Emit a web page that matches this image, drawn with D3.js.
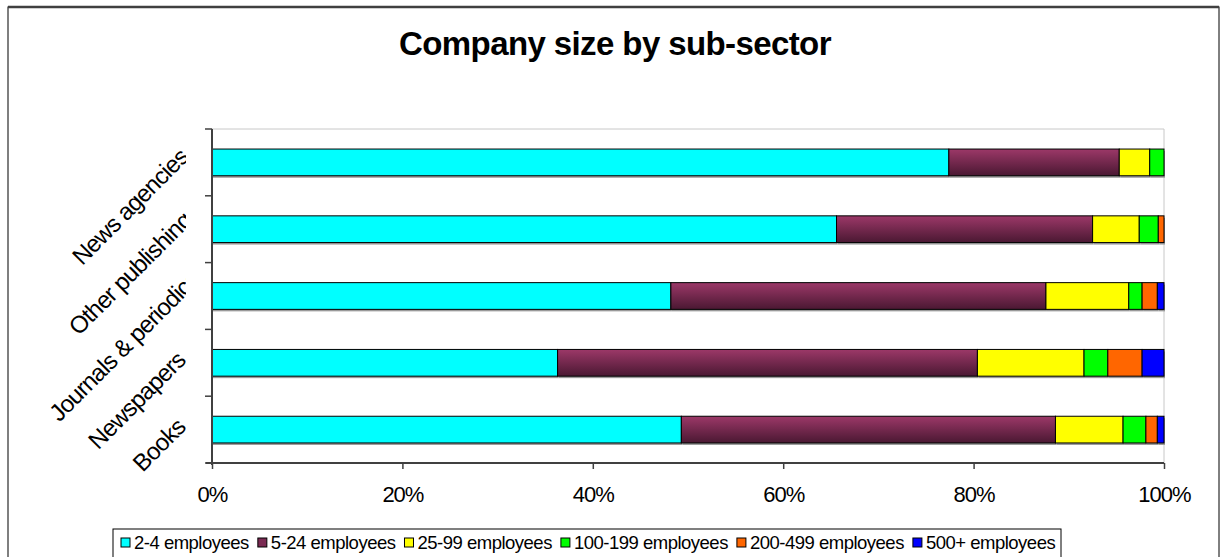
<!DOCTYPE html>
<html>
<head>
<meta charset="utf-8">
<script src="https://cdn.jsdelivr.net/npm/d3@7"></script>
<style>
  body { margin: 0; background: #fff; }
  text { font-family: "Liberation Sans", Arial, sans-serif; }
</style>
</head>
<body>
<div id="chart"></div>
<script>
// Data: share of companies in each size band, per sub-sector (percent)
var sectors = ["Books", "Newspapers", "Journals & periodicals", "Other publishing", "News agencies"];
var sizeBands = ["2-4 employees", "5-24 employees", "25-99 employees", "100-199 employees", "200-499 employees", "500+ employees"];
var books = [49.3, 39.3, 7.1, 2.4, 1.2, 0.7];
var newspapers = [36.3, 44.1, 11.2, 2.5, 3.6, 2.3];
var journals = [48.2, 39.4, 8.7, 1.4, 1.6, 0.7];
var otherPublishing = [65.6, 26.9, 4.9, 2.0, 0.6, 0];
var newsAgencies = [77.4, 17.9, 3.2, 1.5, 0, 0];
var xTicks = [0, 0.2, 0.4, 0.6, 0.8, 1];

var colors = ["#00ffff", "url(#maroonGrad)", "#ffff00", "#00ff00", "#ff6600", "#0000ff"];
var legendColors = ["#00ffff", "#7a2a52", "#ffff00", "#00ff00", "#ff6600", "#0000ff"];

var rows = [books, newspapers, journals, otherPublishing, newsAgencies];
var table = sectors.map(function (s, i) {
    var o = { sector: s };
    sizeBands.forEach(function (b, j) { o[b] = rows[i][j]; });
    return o;
});

var W = 1221, H = 557;
var margin = { top: 129, left: 212, right: 1221 - 1164, bottom: 557 - 463 };
var width = W - margin.left - margin.right,
    height = H - margin.top - margin.bottom;

var svg = d3.select("#chart").append("svg")
    .attr("width", W).attr("height", H);

var defs = svg.append("defs");
var grad = defs.append("linearGradient").attr("id", "maroonGrad")
    .attr("x1", 0).attr("y1", 0).attr("x2", 0).attr("y2", 1);
grad.append("stop").attr("offset", "0%").attr("stop-color", "#9c3868");
grad.append("stop").attr("offset", "100%").attr("stop-color", "#4a1832");

// outer chart border
svg.append("rect").attr("x", 8).attr("y", 7).attr("width", 1211).attr("height", 620)
    .attr("fill", "none").attr("stroke", "#000").attr("stroke-width", 1);
svg.append("line").attr("x1", 8).attr("x2", 1219).attr("y1", 7).attr("y2", 7)
    .attr("stroke", "#404040").attr("stroke-width", 2.5);

// title
svg.append("text")
    .attr("x", 615).attr("y", 55)
    .attr("text-anchor", "middle")
    .style("font-size", "33px").style("font-weight", "bold")
    .style("letter-spacing", "-0.6px")
    .text("Company size by sub-sector");

var g = svg.append("g")
    .attr("transform", "translate(" + margin.left + "," + margin.top + ")");

var x = d3.scaleLinear().domain([0, 1]).range([0, width]);
var y = d3.scaleBand().domain(sectors.slice().reverse()).range([0, height]).paddingInner(0.6).paddingOuter(0.3);

// plot area frame (light)
g.append("path")
    .attr("d", "M0,0H" + width + "V" + height)
    .attr("fill", "none").attr("stroke", "#c8c8c8").attr("stroke-width", 1);

var stack = d3.stack().keys(sizeBands).offset(d3.stackOffsetExpand);
var series = stack(table);

var layers = g.selectAll("g.layer")
    .data(series)
    .enter().append("g")
    .attr("class", "layer");

// shadows
layers.selectAll("rect.shadow")
    .data(function (d) { return d.filter(function (v) { return v[1] > v[0]; }); })
    .enter().append("rect")
    .attr("class", "shadow")
    .attr("x", function (d) { return x(d[0]) + 1; })
    .attr("y", function (d) { return y(d.data.sector) + 2; })
    .attr("width", function (d) { return x(d[1]) - x(d[0]); })
    .attr("height", y.bandwidth())
    .attr("fill", "#9a9a9a");

layers.each(function (s, i) {
    d3.select(this).selectAll("rect.bar")
        .data(s.filter(function (v) { return v[1] > v[0]; }))
        .enter().append("rect")
        .attr("class", "bar")
        .attr("x", function (d) { return x(d[0]); })
        .attr("y", function (d) { return y(d.data.sector); })
        .attr("width", function (d) { return x(d[1]) - x(d[0]); })
        .attr("height", y.bandwidth())
        .attr("fill", colors[i])
        .attr("stroke", "#000")
        .attr("stroke-width", 1);
});

// x axis
var xAxis = g.append("g")
    .attr("transform", "translate(0," + height + ")")
    .call(d3.axisBottom(x).tickValues(xTicks).tickFormat(d3.format(".0%")).tickSize(6).tickSizeOuter(0));
xAxis.select(".domain").attr("stroke", "#404040").attr("stroke-width", 2)
    .attr("d", "M-6,0H" + width);
xAxis.selectAll(".tick line").attr("stroke", "#404040").attr("stroke-width", 1.5);
xAxis.selectAll(".tick text")
    .attr("y", 39)
    .attr("dy", 0)
    .attr("fill", "#000")
    .style("font-size", "22px")
    .style("letter-spacing", "-1px")
    .style("font-family", "'Liberation Sans', Arial, sans-serif");

// y axis: ticks at band boundaries
var bounds = d3.range(sectors.length + 1).map(function (i) { return i * height / sectors.length; });
g.append("line").attr("x1", 0).attr("x2", 0).attr("y1", 0).attr("y2", height + 2)
    .attr("stroke", "#404040").attr("stroke-width", 2);
g.selectAll("line.ytick")
    .data(bounds)
    .enter().append("line")
    .attr("class", "ytick")
    .attr("x1", -7).attr("x2", 0)
    .attr("y1", function (d) { return d; }).attr("y2", function (d) { return d; })
    .attr("stroke", "#404040").attr("stroke-width", 1.5);

// rotated category labels, clipped near the axis like the original
defs.append("clipPath").attr("id", "labelClip")
    .append("rect").attr("x", -margin.left).attr("y", -margin.top)
    .attr("width", margin.left - 26).attr("height", H);

var labelG = g.append("g").attr("clip-path", "url(#labelClip)");
var c45 = Math.SQRT1_2;
labelG.selectAll("text.ylab")
    .data(sectors)
    .enter().append("text")
    .attr("class", "ylab")
    .style("font-size", "24px")
    .style("letter-spacing", "-0.8px")
    .text(function (d) { return d; })
    .each(function (d) {
        var L = this.getComputedTextLength();
        var cy = y(d) + y.bandwidth() / 2;
        var midX = -76, midY = cy + 50;
        var endX = midX + L / 2 * c45;
        var shift = Math.max(0, -25 - endX);
        var sx = midX - L / 2 * c45 + shift;
        var sy = midY + L / 2 * c45 - shift;
        d3.select(this).attr("transform", "translate(" + sx + "," + sy + ") rotate(-45)");
    });

// legend
var legend = svg.append("g");
legend.append("rect").attr("x", 113).attr("y", 529).attr("width", 948).attr("height", 40)
    .attr("fill", "#fff").attr("stroke", "#000").attr("stroke-width", 1);
var lx = 121;
sizeBands.forEach(function (b, i) {
    legend.append("rect").attr("x", lx).attr("y", 538).attr("width", 9).attr("height", 9)
        .attr("fill", legendColors[i]).attr("stroke", "#000").attr("stroke-width", 1);
    var t = legend.append("text").attr("x", lx + 13).attr("y", 549)
        .style("font-size", "18.5px").style("letter-spacing", "-0.5px").text(b);
    lx += 13 + t.node().getComputedTextLength() + 9;
});
</script>
</body>
</html>
